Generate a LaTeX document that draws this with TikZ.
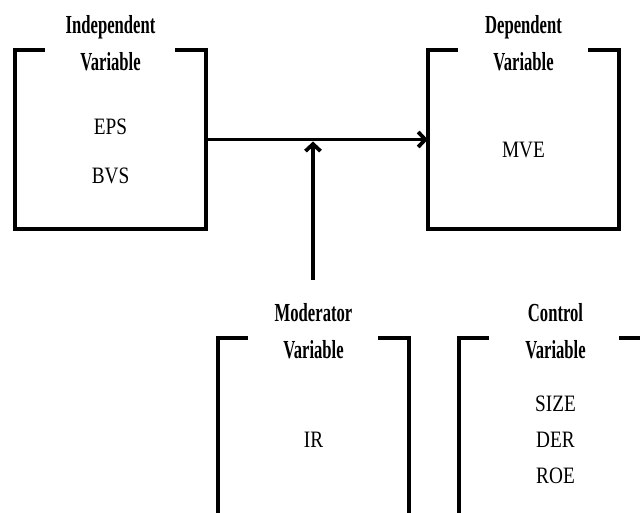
\documentclass[tikz,border=0pt]{standalone}
\usepackage{fontspec}
\usetikzlibrary{positioning, calc, arrows.meta}
\newfontfamily\headfont[FakeStretch=0.64]{Liberation Serif Bold}
\newfontfamily\bodyfont[FakeStretch=0.82]{Liberation Serif}
\newcommand{\openframe}[1]{%
  \draw[frame] ($(#1.north west)+(30,0)$) -- (#1.north west) -- (#1.south west)
    -- (#1.south east) -- (#1.north east) -- ++(-31,0);}

\begin{document}
\begin{tikzpicture}[x=1pt, y=-1pt,
  varbox/.style={minimum width=191pt, minimum height=179pt, inner sep=0pt},
  head/.style={font=\headfont\fontsize{26}{37}\selectfont, align=center},
  item/.style={font=\bodyfont\fontsize{23.5}{36}\selectfont, align=center},
  frame/.style={line width=3.6pt},
  link/.style={line width=3.8pt, -{Straight Barb[length=7pt, width=15pt]}}]

  \useasboundingbox (0, 0) rectangle (640, 513);
  \clip (0, 0) rectangle (640, 513);

  % the four boxes
  \node[varbox] (indep) at (110.5, 139.5) {};
  \node[varbox] (dep)   at (523.5, 139.5) {};
  \node[varbox] (mod)   at (313.5, 427.5) {};
  \node[varbox] (ctrl)  at (554.5, 427.5) {};

  \foreach \b in {indep, dep, mod, ctrl} {
    \openframe{\b}
  }

  % titles
  \node[head] (indeptitle) at ($(indep.north)+(0,-7)$) {Independent\\Variable};
  \node[head] (deptitle)   at ($(dep.north)+(0,-7)$)   {Dependent\\Variable};
  \node[head] (modtitle)   at ($(mod.north)+(0,-7)$)   {Moderator\\Variable};
  \node[head] (ctrltitle)  at ($(ctrl.north)+(1,-7)$)  {Control\\Variable};

  % contents
  \node[item, font=\bodyfont\fontsize{23.5}{49}\selectfont] (indepitems)
    at ($(indep.center)+(0,12)$) {EPS\\BVS};
  \node[item] (depitems)  at ($(dep.center)+(0,10.5)$)  {MVE};
  \node[item] (moditems)  at ($(mod.center)+(0,12.5)$)  {IR};
  \node[item] (ctrlitems) at ($(ctrl.center)+(1,12.5)$) {SIZE\\DER\\ROE};

  % connectors
  \coordinate (modtail) at ($(mod.north)+(-0.5,-58)$);
  \coordinate (join) at (indep.east -| modtail);
  \draw[link] (indep.east) -- (dep.west);
  \draw[link, shorten >=2pt] (modtail) -- (join);

\end{tikzpicture}
\end{document}
